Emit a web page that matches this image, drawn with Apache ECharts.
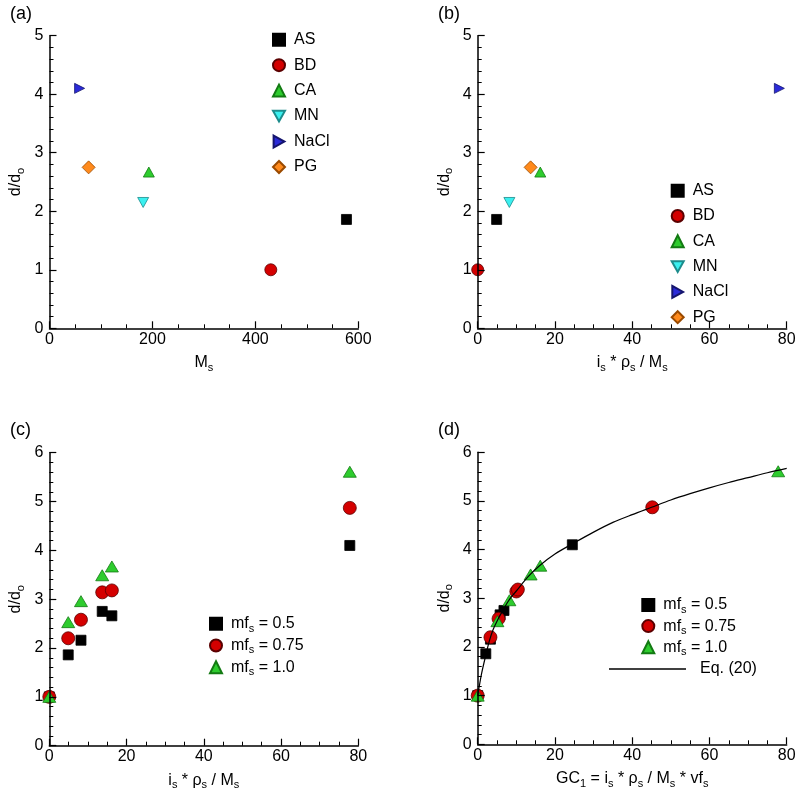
<!DOCTYPE html>
<html><head><meta charset="utf-8">
<script src="https://cdn.jsdelivr.net/npm/echarts@6/dist/echarts.min.js"></script>
<style>html,body{margin:0;padding:0;background:#fff}#c{width:800px;height:795px}</style>
</head><body><div id="c"></div>
<script>
// ---------- data ----------
const soluteNames = ['AS', 'BD', 'CA', 'MN', 'NaCl', 'PG'];
// panel (a): molar mass vs d/do
const molarMassA = [577, 430, 193, 182, 58.5, 76];
const growthA = [1.86, 1.0, 2.67, 2.15, 4.10, 2.75];
// panel (b): is*rho/M vs d/do
const groupB = [4.9, 0, 16.2, 8.2, 78.1, 13.7];
const growthB = [1.86, 1.0, 2.67, 2.15, 4.10, 2.75];
// panel (c): order BD, AS, MN, PG, CA, NaCl
const groupC = [0, 4.9, 8.2, 13.7, 16.2, 77.8];
const mf05C = [1.0, 1.86, 2.16, 2.75, 2.66, 4.10];
const mf075C = [1.0, 2.20, 2.58, 3.14, 3.18, 4.87];
const mf10C = [1.0, 2.53, 2.96, 3.49, 3.67, 5.61];
// panel (d): GC1 values per series, same d/do values
const gcD05 = [0, 2.1, 3.3, 6.8, 5.8, 24.5];
const gcD075 = [0, 3.3, 5.4, 10.0, 10.4, 45.2];
const gcD10 = [0, 5.1, 8.2, 13.7, 16.2, 77.8];
const mf05D = [1.0, 1.86, 2.16, 2.75, 2.66, 4.10];
const mf075D = [1.0, 2.20, 2.58, 3.14, 3.18, 4.87];
const mf10D = [1.0, 2.53, 2.96, 3.49, 3.67, 5.61];
// Eq. (20) curve
const eqX = [0, 1, 2, 3, 4, 5, 6, 8, 10, 13, 16, 20, 25, 30, 35, 40, 45, 50, 55, 60, 65, 70, 75, 80];
const eqY = [1.0, 1.45, 1.80, 2.12, 2.36, 2.53, 2.68, 2.95, 3.15, 3.44, 3.67, 3.91, 4.14, 4.36, 4.56, 4.72, 4.87, 5.02, 5.15, 5.27, 5.38, 5.48, 5.58, 5.67];
const mfNames = ['mf_s = 0.5', 'mf_s = 0.75', 'mf_s = 1.0'];
const mfLabels = ['mf{s|s} = 0.5', 'mf{s|s} = 0.75', 'mf{s|s} = 1.0'];
const eqName = 'Eq. (20)';
const panelLabels = ['(a)', '(b)', '(c)', '(d)'];

// ---------- styles ----------
const FF = '"Liberation Sans", Arial, Helvetica, sans-serif';
const rich = { s: { fontSize: 11, fontFamily: FF, color: '#000', padding: [10, 0, 0, 0] } };
const soluteStyles = [
  { symbol: 'rect', size: [10, 10], color: '#000000', border: '#000000' },
  { symbol: 'circle', size: [12, 12], color: '#d40000', border: '#5a0000' },
  { symbol: 'triangle', size: [11, 10], color: '#2ecc2e', border: '#137a13' },
  { symbol: 'path://M0,0L10,0L5,9Z', size: [11, 10], color: '#3af0f0', border: '#1c8c8c' },
  { symbol: 'path://M0,0L9,5L0,10Z', size: [10, 10], color: '#2a2ad8', border: '#15156e' },
  { symbol: 'diamond', size: [13, 13], color: '#ff8a1c', border: '#9a4a00' }
];
const mfStyles = [
  { symbol: 'rect', size: [10, 10], color: '#000000', border: '#000000' },
  { symbol: 'circle', size: [13, 13], color: '#d40000', border: '#5a0000' },
  { symbol: 'triangle', size: [13, 11], color: '#2ecc2e', border: '#137a13' }
];

const grids = [
  { left: 49.5, top: 35.7, width: 308.8, height: 292.6 },
  { left: 477.7, top: 35.7, width: 309, height: 292.6 },
  { left: 49.3, top: 452.7, width: 309, height: 293 },
  { left: 477.7, top: 452.3, width: 309, height: 292 }
].map(g => Object.assign({ outerBoundsMode: 'none', containLabel: false }, g));

function axisCommon(minorSplit) {
  return {
    type: 'value', min: 0,
    axisLine: { show: true, onZero: false, lineStyle: { color: '#000', width: 1.5 } },
    axisTick: { show: true, inside: true, length: 7, lineStyle: { color: '#000', width: 1.2 } },
    minorTick: { show: true, splitNumber: minorSplit, length: 4, lineStyle: { color: '#000', width: 1 } },
    splitLine: { show: false }, minorSplitLine: { show: false },
    nameLocation: 'middle',
    nameTextStyle: { color: '#000', fontSize: 16, fontFamily: FF, rich: rich },
    z: 5
  };
}
function xAx(gi, max, interval, name) {
  return Object.assign(axisCommon(4), {
    gridIndex: gi, max: max, interval: interval, name: name, nameGap: 24,
    axisLabel: { color: '#000', fontSize: 16, fontFamily: FF, margin: 3 }
  });
}
function yAx(gi, max) {
  return Object.assign(axisCommon(5), {
    gridIndex: gi, max: max, interval: 1, name: 'd/d{s|o}', nameGap: 23,
    axisLabel: { color: '#000', fontSize: 16, fontFamily: FF, margin: 6 }
  });
}

const xAxes = [
  xAx(0, 600, 200, 'M{s|s}'),
  xAx(1, 80, 20, 'i{s|s} * ρ{s|s} / M{s|s}'),
  xAx(2, 80, 20, 'i{s|s} * ρ{s|s} / M{s|s}'),
  xAx(3, 80, 20, 'GC{s|1} = i{s|s} * ρ{s|s} / M{s|s} * vf{s|s}')
];
const yAxes = [yAx(0, 5), yAx(1, 5), yAx(2, 6), yAx(3, 6)];

function scat(name, gi, xs, ys, st) {
  return {
    type: 'scatter', name: name, xAxisIndex: gi, yAxisIndex: gi,
    symbol: st.symbol, symbolSize: st.size,
    itemStyle: { color: st.color, borderColor: st.border, borderWidth: 0.8, opacity: 1 },
    data: xs.map((x, i) => [x, ys[i]]), z: 2
  };
}
const series = [];
soluteNames.forEach((n, i) => series.push(scat(n, 0, [molarMassA[i]], [growthA[i]], soluteStyles[i])));
soluteNames.forEach((n, i) => series.push(scat(n, 1, [groupB[i]], [growthB[i]], soluteStyles[i])));
series.push(scat(mfNames[0], 2, groupC, mf05C, mfStyles[0]));
series.push(scat(mfNames[1], 2, groupC, mf075C, mfStyles[1]));
series.push(scat(mfNames[2], 2, groupC, mf10C, mfStyles[2]));
series.push(scat(mfNames[0], 3, gcD05, mf05D, mfStyles[0]));
series.push(scat(mfNames[1], 3, gcD075, mf075D, mfStyles[1]));
series.push(scat(mfNames[2], 3, gcD10, mf10D, mfStyles[2]));
series.push({
  type: 'line', name: eqName, xAxisIndex: 3, yAxisIndex: 3, smooth: 0.3,
  symbol: 'none', showSymbol: false, lineStyle: { color: '#000', width: 1.2 }, itemStyle: { color: '#000' },
  data: eqX.map((x, i) => [x, eqY[i]]), z: 4
});

const legTS = { color: '#000', fontSize: 16, fontFamily: FF, lineHeight: 12, rich: rich, padding: [0, 0, 0, 4] };
function leg(left, top, data, gap, extra) {
  return Object.assign({
    orient: 'vertical', left: left, top: top, padding: 0, itemGap: gap,
    itemWidth: 12, itemHeight: 12, data: data, selectedMode: false,
    textStyle: legTS,
    formatter: function (n) { const k = mfNames.indexOf(n); return k >= 0 ? mfLabels[k] : n; }
  }, extra || {});
}
const legends = [
  leg(272, 31.7, soluteNames, 9.46),
  leg(670.7, 182.7, soluteNames, 9.3),
  leg(209, 615.7, mfNames, 3.25),
  leg(641.3, 597, mfNames, 2.6),
  leg(609, 661, [{ name: eqName, icon: 'rect' }], 0, {
    itemWidth: 77, itemHeight: 1.4,
    textStyle: Object.assign({}, legTS, { padding: [0, 0, 0, 9] })
  })
];

const titlePos = [[10, 5.5], [438, 5.5], [10, 421.5], [438, 421.5]];
const titles = panelLabels.map((t, i) => ({
  text: t, left: titlePos[i][0], top: titlePos[i][1], padding: 0,
  textStyle: { fontSize: 18, fontWeight: 'normal', fontFamily: FF, color: '#000' }
}));

const chart = echarts.init(document.getElementById('c'), null, { renderer: 'canvas' });
chart.setOption({
  animation: false,
  backgroundColor: '#ffffff',
  title: titles,
  grid: grids,
  xAxis: xAxes,
  yAxis: yAxes,
  legend: legends,
  series: series
});
</script>
</body></html>
